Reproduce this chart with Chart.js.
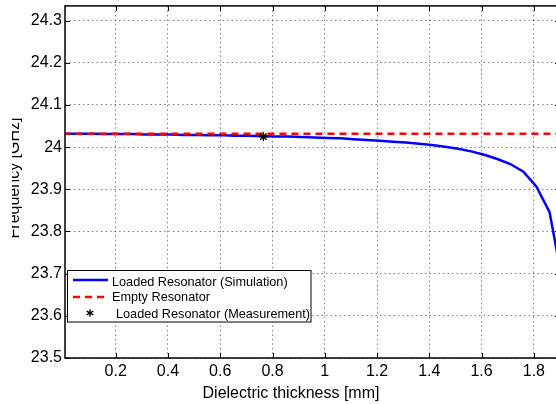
<!DOCTYPE html>
<html>
<head>
<meta charset="utf-8">
<script src="https://cdn.jsdelivr.net/npm/chart.js@4/dist/chart.umd.min.js"></script>
<style>
  html, body { margin: 0; padding: 0; background: #fff; }
  #wrap { width: 556px; height: 404px; overflow: hidden; position: relative; }
  #c { position: absolute; left: 0; top: 0; }
</style>
</head>
<body>
<div id="wrap"><canvas id="c" width="600" height="404"></canvas></div>
<script>
// Dielectric thickness [mm] sampled every 0.05 mm
const thickness = [0.01, 0.06, 0.11, 0.16, 0.21, 0.26, 0.31, 0.36, 0.41, 0.46,
                   0.51, 0.56, 0.61, 0.66, 0.71, 0.76, 0.81, 0.86, 0.91, 0.96,
                   1.01, 1.06, 1.11, 1.16, 1.21, 1.26, 1.31, 1.36, 1.41, 1.46,
                   1.51, 1.56, 1.61, 1.66, 1.71, 1.76, 1.81, 1.86, 1.91];
// Simulated resonance frequency of the loaded resonator [GHz]
const loadedSim = [24.032, 24.032, 24.032, 24.031, 24.031, 24.031, 24.030, 24.030, 24.030, 24.029,
                   24.029, 24.028, 24.028, 24.027, 24.027, 24.026, 24.025, 24.025, 24.024, 24.023,
                   24.022, 24.021, 24.019, 24.017, 24.015, 24.013, 24.011, 24.008, 24.005, 24.001,
                   23.996, 23.990, 23.982, 23.972, 23.960, 23.942, 23.906, 23.846, 23.680];
// Empty resonator frequency (constant)
const emptyThickness = [0.0, 1.95];
const emptyFreq = [24.032, 24.032];
// Measured loaded resonator
const measThickness = [0.765];
const measFreq = [24.025];

const xTicks = [0.2, 0.4, 0.6, 0.8, 1.0, 1.2, 1.4, 1.6, 1.8];
const yTicks = [23.5, 23.6, 23.7, 23.8, 23.9, 24.0, 24.1, 24.2, 24.3];

const FONT = '"Liberation Sans", Arial, sans-serif';
const TICK_SIZE = 16;

const toPts = (xs, ys) => xs.map((x, i) => ({ x: x, y: ys[i] }));
const fmt = v => String(+Number(v).toFixed(2));

const framePlugin = {
  id: 'frame',
  beforeDraw(chart) {
    const ctx = chart.ctx;
    ctx.save();
    ctx.fillStyle = '#fff';
    ctx.fillRect(0, 0, chart.width, chart.height);
    ctx.restore();
  },
  afterDraw(chart) {
    const ctx = chart.ctx;
    const a = chart.chartArea;
    const xs = chart.scales.x, ys = chart.scales.y;
    ctx.save();
    // inward tick marks on all four sides
    ctx.strokeStyle = '#000';
    ctx.lineWidth = 1;
    const tl = 5;
    ctx.beginPath();
    xTicks.forEach(v => {
      const px = Math.round(xs.getPixelForValue(v)) + 0.5;
      ctx.moveTo(px, a.bottom); ctx.lineTo(px, a.bottom - tl);
      ctx.moveTo(px, a.top); ctx.lineTo(px, a.top + tl);
    });
    yTicks.forEach(v => {
      const py = Math.round(ys.getPixelForValue(v)) + 0.5;
      ctx.moveTo(a.left, py); ctx.lineTo(a.left + tl, py);
      ctx.moveTo(a.right, py); ctx.lineTo(a.right - tl, py);
    });
    ctx.stroke();
    // axes box
    ctx.lineWidth = 1.5;
    ctx.strokeRect(a.left, a.top, a.right - a.left, a.bottom - a.top);

    // axis titles
    ctx.fillStyle = '#000';
    ctx.font = TICK_SIZE + 'px ' + FONT;
    ctx.textAlign = 'center';
    ctx.textBaseline = 'alphabetic';
    ctx.fillText('Dielectric thickness [mm]', 291, 398);
    ctx.beginPath();
    ctx.rect(12, 0, 40, chart.height);
    ctx.clip();
    ctx.translate(18.5, 178);
    ctx.rotate(-Math.PI / 2);
    ctx.fillText('Frequency [GHz]', 0, 0);
    ctx.restore();

    // legend
    ctx.save();
    const L = 67.5, T = 270.5, R = 311, B = 322;
    ctx.fillStyle = '#fff';
    ctx.fillRect(L, T, R - L, B - T);
    ctx.strokeStyle = '#000';
    ctx.lineWidth = 1;
    ctx.strokeRect(L, T, R - L, B - T);
    ctx.lineWidth = 2.5;
    ctx.strokeStyle = '#0000ff';
    ctx.beginPath(); ctx.moveTo(73, 280); ctx.lineTo(108, 280); ctx.stroke();
    ctx.strokeStyle = '#ff0000';
    ctx.setLineDash([7, 5]);
    ctx.beginPath(); ctx.moveTo(73, 297); ctx.lineTo(108, 297); ctx.stroke();
    ctx.setLineDash([]);
    // asterisk marker
    ctx.strokeStyle = '#000';
    ctx.lineWidth = 1.3;
    ctx.beginPath();
    const sx = 90, sy = 313, r = 3.8;
    for (let k = 0; k < 3; k++) {
      const ang = Math.PI / 2 + k * Math.PI / 3;
      ctx.moveTo(sx - r * Math.cos(ang), sy - r * Math.sin(ang));
      ctx.lineTo(sx + r * Math.cos(ang), sy + r * Math.sin(ang));
    }
    ctx.stroke();
    ctx.fillStyle = '#000';
    ctx.font = '12.7px ' + FONT;
    ctx.textAlign = 'left';
    ctx.textBaseline = 'middle';
    ctx.fillText('Loaded Resonator (Simulation)', 112, 282);
    ctx.fillText('Empty Resonator', 112, 297.5);
    ctx.fillText('Loaded Resonator (Measurement)', 116, 314);
    ctx.restore();
  }
};

new Chart(document.getElementById('c'), {
  type: 'line',
  data: {
    datasets: [
      {
        label: 'Loaded Resonator (Simulation)',
        data: toPts(thickness, loadedSim),
        borderColor: '#0000ff',
        borderWidth: 2.5,
        pointRadius: 0,
        tension: 0,
        fill: false,
        order: 2
      },
      {
        label: 'Empty Resonator',
        data: toPts(emptyThickness, emptyFreq),
        borderColor: '#ff0000',
        borderWidth: 2.5,
        borderDash: [7, 5],
        pointRadius: 0,
        fill: false,
        order: 1
      },
      {
        label: 'Loaded Resonator (Measurement)',
        data: toPts(measThickness, measFreq),
        showLine: false,
        pointStyle: 'star',
        pointRadius: 4.5,
        borderColor: '#000',
        backgroundColor: '#000',
        pointBorderWidth: 1.4,
        order: 0
      }
    ]
  },
  options: {
    responsive: false,
    animation: false,
    devicePixelRatio: 1,
    layout: { padding: { top: 4.5, right: 40, left: 0, bottom: 0 } },
    plugins: { legend: { display: false }, tooltip: { enabled: false } },
    scales: {
      x: {
        type: 'linear',
        min: 0.006,
        max: 1.9,
        afterBuildTicks: s => { s.ticks = xTicks.map(v => ({ value: v })); },
        afterFit: s => { s.height = 46; s.paddingLeft = 0; s.paddingRight = 0; },
        ticks: {
          callback: v => fmt(v),
          color: '#000',
          font: { family: FONT, size: TICK_SIZE },
          padding: 4,
          maxRotation: 0,
          autoSkip: false
        },
        grid: { color: 'rgba(0,0,0,0.5)', lineWidth: 1, drawTicks: false },
        border: { display: false, dash: [1.5, 3] }
      },
      y: {
        type: 'linear',
        min: 23.5,
        max: 24.335,
        afterBuildTicks: s => { s.ticks = yTicks.map(v => ({ value: v })); },
        afterFit: s => { s.width = 65; s.paddingTop = 0; s.paddingBottom = 0; },
        ticks: {
          callback: v => fmt(v),
          color: '#000',
          font: { family: FONT, size: TICK_SIZE },
          padding: 3,
          autoSkip: false
        },
        grid: { color: 'rgba(0,0,0,0.5)', lineWidth: 1, drawTicks: false },
        border: { display: false, dash: [1.5, 3] }
      }
    }
  },
  plugins: [framePlugin]
});
</script>
</body>
</html>
